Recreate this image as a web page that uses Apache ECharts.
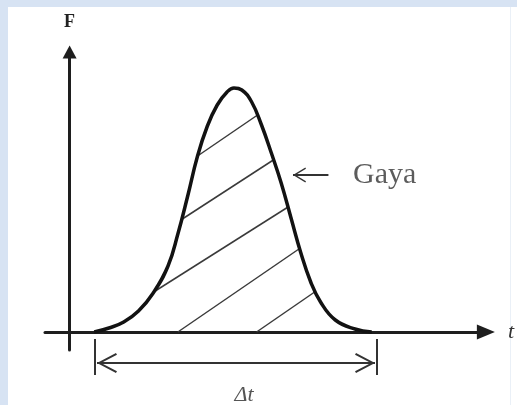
<!DOCTYPE html>
<html>
<head>
<meta charset="utf-8">
<title>Impuls Gaya</title>
<script src="https://cdn.jsdelivr.net/npm/echarts@6/dist/echarts.min.js"></script>
<style>
    html, body { margin: 0; padding: 0; }
    #wrap { position: relative; width: 517px; height: 405px; background: #d7e3f3; overflow: hidden; }
    #panel { position: absolute; left: 8px; top: 7px; width: 509px; height: 398px; background: #fff; }
    #edge { position: absolute; left: 510px; top: 7px; width: 1px; height: 398px; background: #eaf0f7; }
    #echartsGayaDiv { position: absolute; left: 0; top: 0; width: 517px; height: 405px; }
</style>
</head>
<body>
<div id="wrap">
    <div id="panel"></div>
    <div id="edge"></div>
    <div id="echartsGayaDiv"></div>
</div>
<script>
// kurva gaya F terhadap waktu t (1 satuan = 10 px)
var curveT = [2.5, 4.0, 5.5, 7.0, 8.5, 10.0, 11.0, 12.0, 13.0, 14.0, 15.0, 16.0, 16.7, 17.5, 18.5, 19.5, 20.5, 21.5, 22.5, 23.5, 24.5, 25.5, 27.0, 29.0, 30.7];
var curveF = [0, 0.4, 1.0, 2.1, 3.9, 6.6, 9.8, 13.6, 17.6, 20.6, 22.7, 24.0, 24.4, 24.2, 23.0, 20.7, 17.9, 14.9, 11.4, 7.9, 5.0, 3.0, 1.2, 0.3, 0];

// garis arsiran: [t awal, F awal, t akhir, F akhir]
var hatchLines = [
    [13.0, 17.6, 19.1, 21.7],
    [11.3, 11.2, 20.7, 17.2],
    [8.7, 4.1, 22.2, 12.5],
    [11.0, 0, 23.3, 8.3],
    [19.0, 0, 24.9, 4.0]
];

// selang waktu Δt
var dtStart = 2.5;
var dtEnd = 30.7;
var dtLevel = -3.1;
var dtTickTop = -0.7;
var dtTickBottom = -4.3;
var dtTextPos = [17.4, -6.3];

// penunjuk "Gaya"
var gayaArrow = [26.3, 22.7];
var gayaLevel = 15.7;
var gayaTextT = 28.8;

var axisRangeT = [-2.5, 42.3];
var axisRangeF = [-1.8, 28.0];
var dimRangeF = [-7.3, -0.3];

var serif = "'Liberation Serif', 'DejaVu Serif', serif";
var chevron = 'path://M10,0 L20,18.5 L18.3,19.5 L10,4 L1.7,19.5 L0,18.5 Z';
var darkLine = '#1e1e1e';

var echartsGayaDiv = echarts.init(document.getElementById('echartsGayaDiv'));

var curveData = curveT.map(function (t, i) {
    return [t, curveF[i]];
});

var hatchSeries = hatchLines.map(function (h) {
    return {
        type: 'line',
        xAxisIndex: 0,
        yAxisIndex: 0,
        data: [[h[0], h[1]], [h[2], h[3]]],
        symbol: 'none',
        silent: true,
        lineStyle: {color: '#3a3a3a', width: 1.5},
        z: 3
    };
});

var option = {
    animation: false,
    grid: [
        {left: 45, right: 24, top: 52, bottom: 55},
        {left: 45, right: 24, top: 335, bottom: 0}
    ],
    xAxis: [
        {
            type: 'value',
            gridIndex: 0,
            min: axisRangeT[0],
            max: axisRangeT[1],
            name: 't',
            nameLocation: 'end',
            nameGap: 22,
            nameTextStyle: {fontFamily: serif, fontStyle: 'italic', fontSize: 22, color: '#333'},
            axisLine: {
                onZero: true,
                symbol: ['none', 'triangle'],
                symbolSize: [15, 18],
                lineStyle: {color: darkLine, width: 3}
            },
            axisTick: {show: false},
            axisLabel: {show: false},
            splitLine: {show: false}
        },
        {type: 'value', gridIndex: 1, min: axisRangeT[0], max: axisRangeT[1], show: false}
    ],
    yAxis: [
        {
            type: 'value',
            gridIndex: 0,
            min: axisRangeF[0],
            max: axisRangeF[1],
            name: 'F',
            nameLocation: 'end',
            nameGap: 21,
            nameTextStyle: {fontFamily: serif, fontWeight: 'bold', fontSize: 18, color: '#222'},
            axisLine: {
                onZero: true,
                symbol: ['none', 'triangle'],
                symbolSize: [14, 13],
                lineStyle: {color: darkLine, width: 3}
            },
            axisTick: {show: false},
            axisLabel: {show: false},
            splitLine: {show: false}
        },
        {type: 'value', gridIndex: 1, min: dimRangeF[0], max: dimRangeF[1], show: false}
    ],
    series: [
        {
            type: 'line',
            name: 'Gaya',
            xAxisIndex: 0,
            yAxisIndex: 0,
            data: curveData,
            smooth: 0.45,
            symbol: 'none',
            lineStyle: {color: '#121212', width: 3.5},
            z: 5
        }
    ].concat(hatchSeries).concat([
        {
            // label "Gaya" + panah
            type: 'scatter',
            xAxisIndex: 0,
            yAxisIndex: 0,
            data: [[gayaTextT, gayaLevel]],
            symbolSize: 0,
            silent: true,
            label: {
                show: true,
                position: 'right',
                distance: 0,
                formatter: 'Gaya',
                fontFamily: serif,
                fontSize: 30,
                color: '#333'
            },
            markLine: {
                silent: true,
                symbol: ['none', chevron],
                symbolSize: [15, 13],
                symbolOffset: [[0, 0], [0, 6.5]],
                label: {show: false},
                lineStyle: {color: '#333', width: 2.2, type: 'solid'},
                data: [[{coord: [gayaArrow[0], gayaLevel]}, {coord: [gayaArrow[1], gayaLevel]}]]
            }
        },
        {
            type: 'line',
            xAxisIndex: 1,
            yAxisIndex: 1,
            data: [[dtStart, dtTickTop], [dtStart, dtTickBottom]],
            symbol: 'none',
            silent: true,
            lineStyle: {color: '#333', width: 2}
        },
        {
            type: 'line',
            xAxisIndex: 1,
            yAxisIndex: 1,
            data: [[dtEnd, dtTickTop], [dtEnd, dtTickBottom]],
            symbol: 'none',
            silent: true,
            lineStyle: {color: '#333', width: 2}
        },
        {
            // panah Δt
            type: 'scatter',
            xAxisIndex: 1,
            yAxisIndex: 1,
            data: [dtTextPos],
            symbolSize: 0,
            silent: true,
            label: {
                show: true,
                position: 'inside',
                formatter: 'Δt',
                fontFamily: serif,
                fontStyle: 'italic',
                fontSize: 22,
                color: '#2a2a2a'
            },
            markLine: {
                silent: true,
                symbol: [chevron, chevron],
                symbolSize: [20, 20],
                symbolOffset: [[0, 10], [0, 10]],
                label: {show: false},
                lineStyle: {color: '#333', width: 2, type: 'solid'},
                data: [[{coord: [dtStart + 0.2, dtLevel]}, {coord: [dtEnd - 0.2, dtLevel]}]]
            }
        }
    ])
};

echartsGayaDiv.setOption(option);
</script>
</body>
</html>
